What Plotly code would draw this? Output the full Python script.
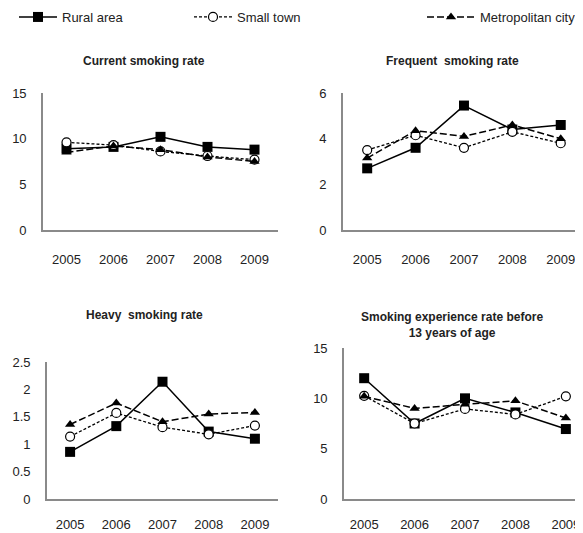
import plotly.graph_objects as go

years = ["2005", "2006", "2007", "2008", "2009"]
series_names = ["Rural area", "Small town", "Metropolitan city"]

current_rural = [8.9, 9.1, 10.2, 9.1, 8.8]
current_small = [9.6, 9.3, 8.6, 8.1, 7.7]
current_metro = [8.5, 9.2, 8.8, 8.0, 7.5]

frequent_rural = [2.7, 3.6, 5.45, 4.4, 4.6]
frequent_small = [3.5, 4.15, 3.6, 4.3, 3.8]
frequent_metro = [3.15, 4.35, 4.1, 4.6, 4.0]

heavy_rural = [0.86, 1.33, 2.14, 1.23, 1.1]
heavy_small = [1.14, 1.57, 1.31, 1.18, 1.34]
heavy_metro = [1.36, 1.75, 1.41, 1.55, 1.58]

early_rural = [12.0, 7.5, 10.0, 8.6, 6.95]
early_small = [10.25, 7.5, 8.95, 8.4, 10.2]
early_metro = [10.2, 9.0, 9.4, 9.75, 8.05]

titles = ["Current smoking rate", "Frequent  smoking rate", "Heavy  smoking rate",
          "Smoking experience rate before<br>13 years of age"]

W, H = 583, 533
OFF = 8  # page body margin
FONT = "Liberation Sans, Arial, sans-serif"

styles = [
    dict(line=dict(color="black", width=1.5, dash="solid"),
         marker=dict(symbol="square", size=10, color="black")),
    dict(line=dict(color="black", width=1.3, dash="3px,2px"),
         marker=dict(symbol="circle", size=9, color="white", line=dict(color="black", width=1.2))),
    dict(line=dict(color="black", width=1.5, dash="7px,3px"),
         marker=dict(symbol="triangle-up", size=9, color="black")),
]

panels = [
    (current_rural, current_small, current_metro),
    (frequent_rural, frequent_small, frequent_metro),
    (heavy_rural, heavy_small, heavy_metro),
    (early_rural, early_small, early_metro),
]

fig = go.Figure()
legend_ids = ["legend", "legend2", "legend3"]
for p, data in enumerate(panels):
    ax = "" if p == 0 else str(p + 1)
    for s, vals in enumerate(data):
        fig.add_trace(go.Scatter(
            x=years, y=vals, mode="lines+markers", name=series_names[s],
            xaxis="x" + ax, yaxis="y" + ax,
            showlegend=(p == 0), legend=legend_ids[s],
            cliponaxis=False,
            **styles[s]))

def sx(v):
    return (v - OFF) / W

def sy(v):
    return 1 - (v - OFF) / H

# plot areas in screen pixels: (left, right, top, bottom)
areas = [(43, 278, 93, 230), (343, 583, 93, 230), (47, 278, 362, 499), (344, 583, 348, 499)]
yranges = [[0, 15], [0, 6], [0, 2.5], [0, 15]]
ydticks = [5, 2, 0.5, 5]
xranges = [[-0.5, 4.5], [-0.5, 4.46], [-0.5, 4.5], [-0.4, 4.34]]
xticklens = [17, 17, 13, 13]

axis_common = dict(showgrid=False, zeroline=False, showline=True, linecolor="#8a8a8a", linewidth=1.6,
                   ticks="outside", tickcolor="rgba(0,0,0,0)", automargin=False,
                   tickfont=dict(family=FONT, size=13, color="#222"))
layout = {}
for p, (l, r, t, b) in enumerate(areas):
    ax = "" if p == 0 else str(p + 1)
    layout["xaxis" + ax] = dict(axis_common, domain=[sx(l), min(sx(r), 1)], type="category",
                                range=xranges[p], anchor="y" + ax, ticklen=xticklens[p])
    layout["yaxis" + ax] = dict(axis_common, domain=[sy(b), sy(t)], range=yranges[p],
                                dtick=ydticks[p], anchor="x" + ax, ticklen=12)

annotations = []
title_pos = [(144, 61), (452, 61), (144, 315), (452, 325)]
for p, (cx, cy) in enumerate(title_pos):
    annotations.append(dict(text="<b>" + titles[p] + "</b>", x=sx(cx), y=sy(cy),
                            xref="paper", yref="paper", showarrow=False,
                            xanchor="center", yanchor="middle",
                            font=dict(family=FONT, size=12, color="#222")))

legend_x = [14, 189, 422]
legend_w = [38, 38, 48]
for i, lid in enumerate(legend_ids):
    layout[lid] = dict(x=sx(legend_x[i]), y=sy(17), xanchor="left", yanchor="middle",
                       orientation="h", bgcolor="rgba(0,0,0,0)", itemwidth=legend_w[i],
                       font=dict(family=FONT, size=13, color="#222"))

fig.update_layout(width=W, height=H, margin=dict(l=0, r=0, t=0, b=0, autoexpand=False),
                  paper_bgcolor="white", plot_bgcolor="white",
                  annotations=annotations, **layout)

fig.write_html("out.html")
